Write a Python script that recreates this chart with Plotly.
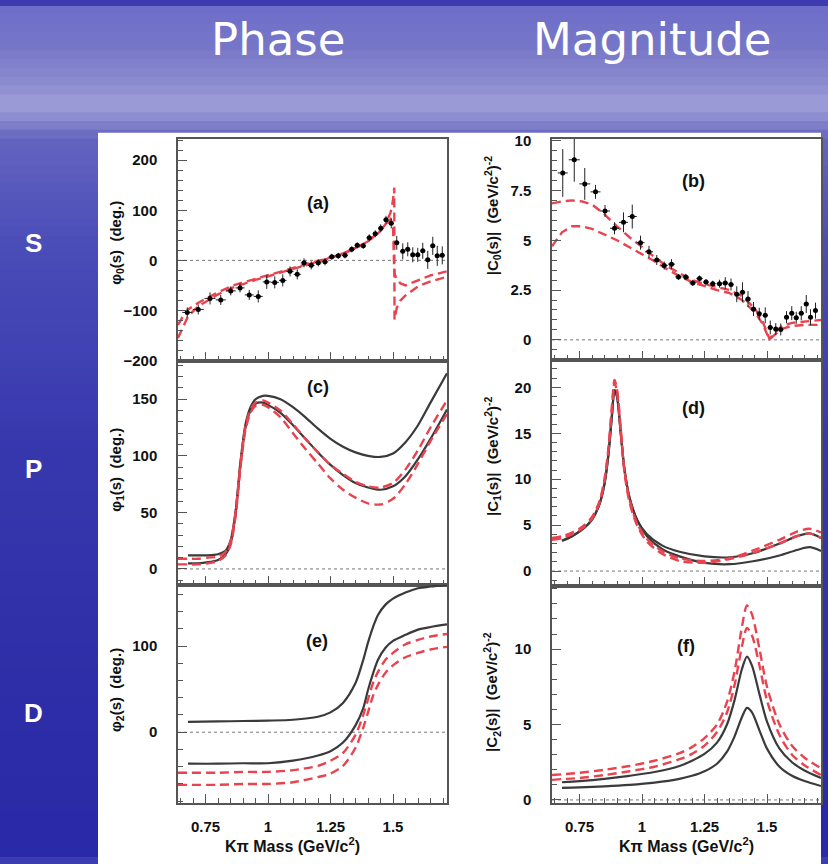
import plotly.graph_objects as go

# ---------------- DATA ----------------
# (a) S-wave phase: data points
a_x = [0.677,0.721,0.768,0.811,0.851,0.888,0.925,0.961,0.995,1.027,1.059,1.088,1.117,1.144,1.173,1.201,1.228,1.255,1.281,1.308,1.335,1.357,1.381,1.405,1.429,1.451,1.472,1.493,1.515,1.539,1.559,1.579,1.599,1.619,1.639,1.659,1.677,1.697]
a_y = [-104,-98,-76,-79,-61,-55,-69,-72,-43,-44,-40,-22,-28,-5,-10,-5,-3,7,9,10,22,30,29,45,53,64,81,74,35,18,22,11,11,19,1,29,9,10]
a_yerr = [10,10,12,10,9,9,10,12,14,12,12,10,10,9,8,7,7,6,6,6,6,6,6,7,7,8,8,10,14,16,14,15,14,16,18,18,20,18]
a_xerr = [0.02,0.022,0.022,0.02,0.02,0.018,0.018,0.018,0.016,0.016,0.015,0.014,0.014,0.013,0.013,0.013,0.013,0.012,0.012,0.012,0.012,0.011,0.011,0.011,0.011,0.01,0.01,0.01,0.01,0.01,0.01,0.01,0.01,0.01,0.01,0.01,0.01,0.01]
# (a) model curves
a_fit1_x = [0.64,0.66,0.68,0.72,0.76,0.80,0.85,0.90,0.95,1.00,1.05,1.10,1.15,1.20,1.25,1.30,1.35,1.40,1.44,1.47,1.49,1.50,1.505,1.506,1.515,1.53,1.55,1.60,1.65,1.716]
a_fit1_y = [-155,-132,-112,-92,-80,-68,-56,-47,-39,-32,-24,-17,-10,-3,5,13,24,38,55,72,95,120,145,-118,-95,-80,-70,-52,-42,-33]
a_fit2_x = [0.64,0.66,0.68,0.72,0.76,0.80,0.85,0.90,0.95,1.00,1.05,1.10,1.15,1.20,1.25,1.30,1.35,1.40,1.44,1.47,1.49,1.50,1.505,1.515,1.53,1.55,1.60,1.65,1.716]
a_fit2_y = [-129,-112,-98,-85,-74,-64,-52,-44,-37,-30,-22,-15,-8,-1,6,14,25,38,54,70,82,70,-25,-38,-46,-50,-40,-30,-22]

# (b) S-wave magnitude: data points
b_x = [0.683,0.729,0.771,0.814,0.852,0.890,0.926,0.961,0.994,1.028,1.059,1.089,1.118,1.146,1.175,1.203,1.230,1.256,1.283,1.310,1.333,1.356,1.379,1.402,1.424,1.446,1.469,1.493,1.513,1.535,1.555,1.578,1.599,1.617,1.637,1.657,1.674,1.694]
b_y = [8.38,9.04,7.83,7.43,6.47,5.60,5.90,6.19,4.88,4.42,4.01,3.73,3.80,3.16,3.16,2.86,3.08,2.90,2.82,2.82,2.85,2.78,2.29,2.39,2.05,1.55,1.31,1.23,0.62,0.54,0.52,1.14,1.34,1.11,1.34,1.80,1.14,1.47]
b_yerr = [1.2,1.1,0.8,0.35,0.3,0.3,0.5,0.6,0.35,0.3,0.25,0.2,0.25,0.15,0.15,0.15,0.15,0.15,0.15,0.2,0.3,0.3,0.4,0.5,0.4,0.35,0.3,0.4,0.35,0.3,0.3,0.3,0.35,0.3,0.35,0.45,0.4,0.4]
b_xerr = a_xerr
# (b) model curves
b_fit_x = [0.64,0.68,0.72,0.76,0.80,0.85,0.90,0.95,1.00,1.05,1.10,1.15,1.20,1.25,1.30,1.35,1.40,1.45,1.48,1.50,1.51,1.53,1.56,1.60,1.65,1.716]
b_fit1_y = [6.85,6.95,7.0,6.95,6.8,6.3,5.7,5.15,4.67,4.15,3.7,3.35,3.0,2.8,2.65,2.5,2.2,1.6,1.0,0.4,0.05,0.35,0.7,0.85,0.9,1.0]
b_fit2_y = [4.7,5.4,5.7,5.7,5.57,5.3,5.0,4.65,4.32,3.95,3.55,3.2,2.9,2.7,2.5,2.35,2.0,1.4,0.85,0.3,0.02,0.25,0.55,0.7,0.75,0.75]

# (c) P-wave phase
c_x = [0.64,0.68,0.72,0.76,0.80,0.83,0.85,0.87,0.89,0.91,0.93,0.95,0.98,1.00,1.05,1.10,1.15,1.20,1.25,1.30,1.35,1.40,1.45,1.50,1.55,1.60,1.65,1.716]
c_blk1 = [None,12,12,12,13,16,25,50,95,128,143,150,153,153,150,143,134,124,115,108,103,100,99,102,112,127,147,173]
c_blk2 = [None,5,5,6,8,13,22,48,92,125,140,146,147,145,138,127,115,103,92,83,76,72,70,73,82,97,115,141]
c_red1 = [9,9,9,10,11,15,24,50,93,126,141,147,149,147,140,128,115,103,92,84,77,73,72,76,88,105,125,149]
c_red2 = [4,4,4,5,7,12,21,46,90,123,138,144,145,143,134,120,106,93,80,70,63,58,57,62,75,93,113,137]

# (d) P-wave magnitude
d_x = [0.64,0.68,0.72,0.76,0.80,0.83,0.85,0.865,0.88,0.89,0.90,0.915,0.93,0.95,0.98,1.02,1.08,1.15,1.25,1.35,1.45,1.55,1.62,1.67,1.716]
d_blk1 = [None,3.3,3.8,4.5,5.6,7.3,9.5,12.5,17,19.7,19,15,11,8,5.6,4.0,2.8,2.1,1.6,1.5,2.0,3.0,3.8,4.1,3.6]
d_blk2 = [None,3.3,3.8,4.5,5.6,7.3,9.5,12.5,17,19.7,19,15,11,8,5.6,3.8,2.4,1.6,0.9,0.75,1.1,1.7,2.3,2.6,2.2]
d_red1 = [3.6,3.8,4.2,4.8,5.9,7.6,10,13.2,18,20.8,19.8,15.5,11,7.8,5.2,3.5,2.2,1.4,1.1,1.4,2.3,3.4,4.3,4.6,4.2]
d_red2 = [3.4,3.6,4.0,4.6,5.7,7.4,9.8,13,17.7,20.5,19.5,15.2,10.7,7.5,5.0,3.2,1.9,1.1,0.9,1.3,2.0,3.0,3.8,4.1,3.6]

# (e) D-wave phase
e_x = [0.64,0.68,0.80,0.90,1.00,1.10,1.20,1.25,1.30,1.35,1.38,1.40,1.42,1.44,1.47,1.50,1.55,1.60,1.65,1.716]
e_blk1 = [None,12,12.5,13,13.5,14.5,18,23,34,57,83,104,122,136,148,155,162,167,169,171]
e_blk2 = [None,-36.5,-36.5,-36,-36,-33,-27,-22,-12,8,27,49,68,84,98,106,113,119,122,125]
e_red1 = [-47,-47,-47,-46,-46,-44,-39,-33,-24,-3,19,38,57,70,84,92,102,107,111,114]
e_red2 = [-61,-61,-61,-60,-60,-58,-52,-48,-39,-18,4.5,23,42,55,69,77.5,87,92,96,99]

# (f) D-wave magnitude
f_x = [0.64,0.68,0.75,0.85,0.95,1.05,1.15,1.20,1.25,1.30,1.34,1.37,1.40,1.42,1.44,1.47,1.50,1.55,1.60,1.65,1.716]
f_blk1 = [None,1.17,1.25,1.4,1.6,1.85,2.25,2.6,3.05,3.8,5.0,6.6,8.7,9.5,8.9,7.0,5.2,3.4,2.5,1.95,1.45]
f_blk2 = [None,0.8,0.83,0.9,1.0,1.15,1.4,1.6,1.9,2.4,3.2,4.2,5.5,6.1,5.8,4.6,3.4,2.2,1.6,1.25,0.92]
f_red1 = [1.65,1.7,1.8,2.0,2.25,2.6,3.1,3.5,4.1,5.0,6.5,8.5,11.5,12.9,12.3,10.0,7.5,5.0,3.6,2.8,2.1]
f_red2 = [1.33,1.38,1.45,1.65,1.9,2.2,2.7,3.05,3.6,4.5,5.8,7.6,10.2,11.4,10.9,8.9,6.6,4.3,3.0,2.3,1.65]

x_ticks = [0.75, 1, 1.25, 1.5]
x_ticklabels = ["0.75", "1", "1.25", "1.5"]
panel_labels = ["(a)", "(b)", "(c)", "(d)", "(e)", "(f)"]
y_titles = ["φ<sub>0</sub>(s)\u00a0\u00a0(deg.)",
            "|C<sub>0</sub>(s)|\u00a0\u00a0(GeV/c<sup>2</sup>)<sup>-2</sup>",
            "φ<sub>1</sub>(s)\u00a0\u00a0(deg.)",
            "|C<sub>1</sub>(s)|\u00a0\u00a0(GeV/c<sup>2</sup>)<sup>-2</sup>",
            "φ<sub>2</sub>(s)\u00a0\u00a0(deg.)",
            "|C<sub>2</sub>(s)|\u00a0\u00a0(GeV/c<sup>2</sup>)<sup>-2</sup>"]
x_title = "Kπ Mass (GeV/c<sup>2</sup>)"
col_titles = ["Phase", "Magnitude"]
row_titles = ["S", "P", "D"]

# ---------------- LAYOUT GEOMETRY ----------------
W, H = 828, 864
def px_x(p): return p / W
def px_y(p): return 1 - p / H

BLK = "#3a3a3a"
RED = "#e8434f"
FONT = "Liberation Sans"
DASH = "9px,5px"

fig = go.Figure()

def line(xs, ys, color, dash, ax, spline=True):
    fig.add_trace(go.Scatter(
        x=xs, y=ys, mode="lines", xaxis="x" + ax, yaxis="y" + ax,
        line=dict(color=color, width=2.4 if dash else 2.2, dash=DASH if dash else "solid",
                  shape="spline" if spline else "linear", smoothing=0.8),
        connectgaps=False, showlegend=False, hoverinfo="skip"))

def points(xs, ys, xe, ye, ax):
    fig.add_trace(go.Scatter(
        x=xs, y=ys, mode="markers", xaxis="x" + ax, yaxis="y" + ax,
        marker=dict(color="black", size=5),
        error_y=dict(type="data", array=ye, color="#222", thickness=1, width=0),
        error_x=dict(type="data", array=xe, color="#222", thickness=1, width=0),
        showlegend=False, hoverinfo="skip"))

# (a)
line(a_fit1_x, a_fit1_y, RED, True, "", spline=False)
line(a_fit2_x, a_fit2_y, RED, True, "", spline=False)
points(a_x, a_y, a_xerr, a_yerr, "")
# (b)
line(b_fit_x, b_fit1_y, RED, True, "2", spline=False)
line(b_fit_x, b_fit2_y, RED, True, "2", spline=False)
points(b_x, b_y, b_xerr, b_yerr, "2")
# (c)
line(c_x, c_blk1, BLK, False, "3"); line(c_x, c_blk2, BLK, False, "3")
line(c_x, c_red1, RED, True, "3"); line(c_x, c_red2, RED, True, "3")
# (d)
line(d_x, d_blk1, BLK, False, "4"); line(d_x, d_blk2, BLK, False, "4")
line(d_x, d_red1, RED, True, "4"); line(d_x, d_red2, RED, True, "4")
# (e)
line(e_x, e_blk1, BLK, False, "5"); line(e_x, e_blk2, BLK, False, "5")
line(e_x, e_red1, RED, True, "5"); line(e_x, e_red2, RED, True, "5")
# (f)
line(f_x, f_blk1, BLK, False, "6"); line(f_x, f_blk2, BLK, False, "6")
line(f_x, f_red1, RED, True, "6"); line(f_x, f_red2, RED, True, "6")

# panel geometry (pixels)
left_x = (178, 447)
right_x = (552, 821)
left_rows = [(134, 360), (360, 588), (588, 810)]
right_rows = [(134, 359), (359, 589), (589, 810)]
y_ranges = [[-200.5, 243], [-1.0, 10.1], [-14, 184], [-1.6, 23], [-82, 171], [-0.2, 14.2]]
y_dticks = [(100, 20), (2.5, 0.5), (50, 10), (5, 1), (100, 20), (5, 1)]
X_RANGE = [0.64, 1.716]

layout = {}
tickfont = dict(family=FONT, size=15, color="#111", weight="bold")
for i in range(6):
    col = i % 2
    row = i // 2
    xs = left_x if col == 0 else right_x
    ys = (left_rows if col == 0 else right_rows)[row]
    suf = "" if i == 0 else str(i + 1)
    ax_id = "" if i == 0 else str(i + 1)
    layout["xaxis" + suf] = dict(
        domain=[px_x(xs[0]), px_x(xs[1])], range=X_RANGE, anchor="y" + ax_id,
        showgrid=False, zeroline=False, showline=True, linecolor="#555", linewidth=1.5, mirror=True,
        ticks="inside", ticklen=9, tickcolor="#555", tickwidth=1,
        tickvals=x_ticks, ticktext=x_ticklabels, showticklabels=(row == 2),
        tickfont=tickfont, ticklabelstandoff=9,
        minor=dict(ticks="inside", ticklen=5, dtick=0.05, tick0=0, tickcolor="#555", showgrid=False))
    layout["yaxis" + suf] = dict(
        domain=[px_y(ys[1]), px_y(ys[0])], range=y_ranges[i], anchor="x" + ax_id,
        showgrid=False, zeroline=False, showline=True, linecolor="#555", linewidth=1.5, mirror=True,
        ticks="inside", ticklen=9, tickcolor="#555", tickwidth=1, dtick=y_dticks[i][0], tick0=0,
        tickfont=tickfont, ticklabelstandoff=16,
        minor=dict(ticks="inside", ticklen=5, dtick=y_dticks[i][1], tick0=0, tickcolor="#555", showgrid=False))

# background gradient bands
stops = [(0, (110, 110, 200)), (40, (118, 118, 200)), (80, (140, 140, 208)), (100, (160, 160, 218)),
         (115, (138, 138, 208)), (135, (100, 100, 192)), (250, (74, 76, 184)), (450, (56, 56, 174)),
         (700, (46, 46, 168)), (864, (42, 42, 168))]
shapes = []
nb = 96
for k in range(nb):
    y0 = H * k / nb; y1 = H * (k + 1) / nb; ym = (y0 + y1) / 2
    for j in range(len(stops) - 1):
        if stops[j][0] <= ym <= stops[j + 1][0]:
            t = (ym - stops[j][0]) / (stops[j + 1][0] - stops[j][0])
            c = tuple(int(stops[j][1][m] + t * (stops[j + 1][1][m] - stops[j][1][m])) for m in range(3))
            break
    shapes.append(dict(type="rect", xref="paper", yref="paper", x0=0, x1=1, y0=px_y(y1 + 1), y1=px_y(y0 - 1),
                       fillcolor="rgb(%d,%d,%d)" % c, line=dict(width=0), layer="below"))
# white sheet
shapes.append(dict(type="rect", xref="paper", yref="paper", x0=px_x(98), x1=px_x(821), y0=-0.02, y1=px_y(128),
                   fillcolor="white", line=dict(width=0), layer="below"))
# dotted zero lines
for i in range(6):
    ax_id = "" if i == 0 else str(i + 1)
    shapes.append(dict(type="line", xref="x" + ax_id + " domain", yref="y" + ax_id, x0=0, x1=1, y0=0, y1=0,
                       line=dict(color="#777", width=1, dash="dot"), layer="below"))

annotations = []
# column titles
for txt, cx in zip(col_titles, [278, 652]):
    annotations.append(dict(text=txt, x=px_x(cx), y=px_y(33), xref="paper", yref="paper", showarrow=False,
                            font=dict(family="DejaVu Sans", size=45, color="white"),
                            xanchor="center", yanchor="middle"))
# row titles
for txt, cy in zip(row_titles, [240, 470, 718]):
    annotations.append(dict(text=txt, x=px_x(33), y=px_y(cy), xref="paper", yref="paper", showarrow=False,
                            font=dict(family=FONT, size=26, color="white", weight="bold"),
                            xanchor="center", yanchor="middle"))
# panel labels
lab_pos = [(318, 199), (693, 177), (318, 387), (693, 408), (317, 645), (686, 650)]
for txt, (lx, ly) in zip(panel_labels, lab_pos):
    annotations.append(dict(text=txt, x=px_x(lx), y=px_y(ly), xref="paper", yref="paper", showarrow=False,
                            font=dict(family=FONT, size=18, color="#111", weight="bold"),
                            xanchor="center", yanchor="middle"))
# y titles
yt_pos = [(117, 240), (492, 212), (117, 471), (492, 457), (117, 695), (492, 697)]
for txt, (tx, ty) in zip(y_titles, yt_pos):
    annotations.append(dict(text=txt, x=px_x(tx), y=px_y(ty), xref="paper", yref="paper", showarrow=False,
                            textangle=-90, font=dict(family=FONT, size=15, color="#111", weight="bold"),
                            xanchor="center", yanchor="middle"))
# x titles
for cx in [292, 686]:
    annotations.append(dict(text=x_title, x=px_x(cx), y=px_y(853), xref="paper", yref="paper", showarrow=False,
                            font=dict(family=FONT, size=16, color="#111", weight="bold"),
                            xanchor="center", yanchor="middle"))

fig.update_layout(width=W, height=H, margin=dict(l=0, r=0, t=0, b=0),
                  paper_bgcolor="rgb(60,60,176)", plot_bgcolor="white",
                  shapes=shapes, annotations=annotations, showlegend=False, **layout)

fig.write_html("out.html", config={"displayModeBar": False},
               post_script="document.body.style.margin='0px';document.body.style.padding='0px';")
